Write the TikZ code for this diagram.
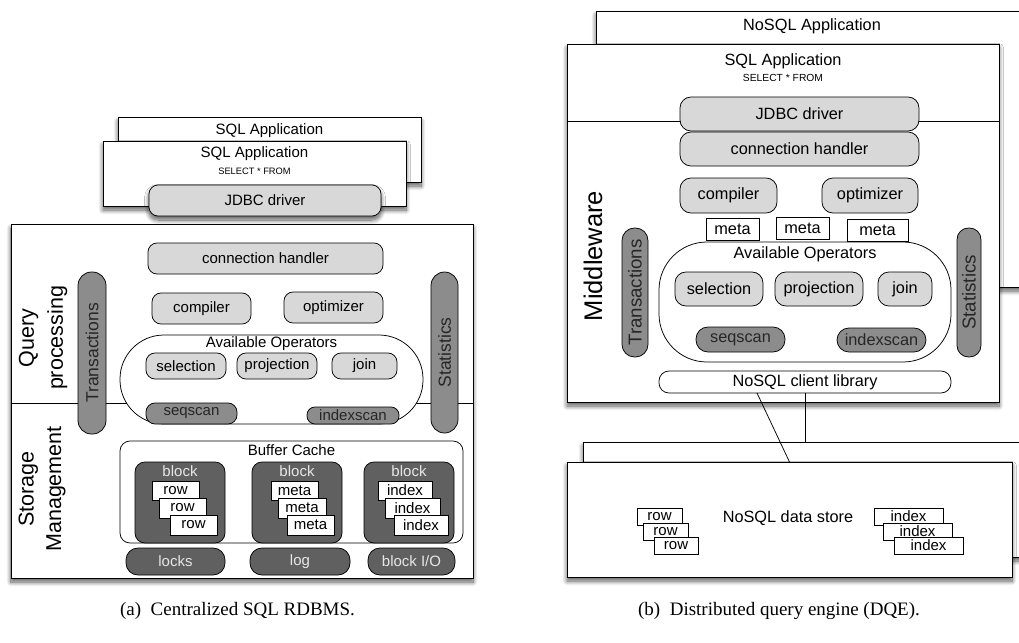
\documentclass[tikz,border=0pt]{standalone}
\usepackage{fontspec}
\setmainfont{Liberation Sans}
\newfontfamily\capfont{Liberation Serif}
\usetikzlibrary{shadows.blur,calc}

\definecolor{lightbox}{HTML}{D8D8D8}
\definecolor{midbox}{HTML}{8C8C8C}
\definecolor{darkbox}{HTML}{606060}
\definecolor{palefont}{HTML}{E6E6E6}

% \bx{style}{name}{x1}{y1}{x2}{y2}{text}: box from its two corners
\newcommand{\bx}[7]{\node[#1, inner sep=0pt, outer sep=0pt,
  minimum width={(#5-#3)*1pt}, minimum height={(#6-#4)*1pt}]
  (#2) at ({(#3+#5)/2},{(#4+#6)/2}) {#7};}
% \vbx: same, for an upright bar whose text runs bottom to top
\newcommand{\vbx}[7]{\node[#1, rotate=90, inner sep=0pt, outer sep=0pt,
  minimum width={(#6-#4)*1pt}, minimum height={(#5-#3)*1pt}]
  (#2) at ({(#3+#5)/2},{(#4+#6)/2}) {#7};}

\tikzset{
  shd/.style={blur shadow={shadow xshift=0pt, shadow yshift=-4pt,
      shadow blur radius=4.5pt, shadow blur steps=12, shadow opacity=65}},
  frame/.style={draw, line width=0.9pt, fill=white},
  pill/.style={draw, line width=0.75pt, rounded corners=9pt},
  lite/.style={pill, fill=lightbox},
  mid/.style={pill, fill=midbox, text=black!85},
  dark/.style={pill, fill=darkbox, text=palefont},
  cell/.style={draw, line width=0.75pt, fill=white},
  fa/.style={font=\fontsize{15}{17}\selectfont},
  fb/.style={font=\fontsize{16.3}{18}\selectfont},
  fsmall/.style={font=\fontsize{9.3}{10}\selectfont},
  fsmallb/.style={font=\fontsize{10.3}{11}\selectfont},
  fcell/.style={font=\fontsize{15}{16}\selectfont, text depth=0pt},
  sidelabel/.style={rotate=90, align=center, inner sep=0pt},
}

\begin{document}
\begin{tikzpicture}[x=1pt,y=-1pt]
\useasboundingbox (0,0) rectangle (1019,642);
\clip (0,0) rectangle (1019,642);

% ---------------- (a) centralized RDBMS ----------------
\bx{frame,shd}{appLb}{118}{117}{421}{182}{}
\node[fa] (appLbt) at (269.5,131) {SQL Application};
\bx{frame,shd}{appLf}{103}{141}{406}{206}{}
\node[fa] (appLft) at (254.5,154) {SQL Application};
\node[fsmall] (selL) at (254.5,171) {SELECT * FROM};
\bx{lite,shd,fa}{jdbcL}{149}{185}{381}{216}{JDBC driver}

\bx{frame,shd}{mainL}{11}{224}{473}{578}{}
\coordinate (divL) at (11,403);
\draw[line width=0.75pt] (divL) -- (divL -| mainL.east);

\bx{lite,fa}{connL}{148}{243}{383}{274}{connection handler}
\vbx{mid,rounded corners=13.5pt,font=\fontsize{17.5}{20}\selectfont}{transL}{78}{272}{106}{434}{Transactions}
\vbx{mid,rounded corners=13.5pt,font=\fontsize{17.5}{20}\selectfont}{statL}{431}{272}{458}{433}{Statistics}
\bx{lite,fa}{compL}{152}{293}{251}{324}{compiler}
\bx{lite,fa}{optL}{284}{292}{383}{323}{optimizer}

\bx{frame,line width=0.75pt,rounded corners=44pt}{opsL}{120}{335}{423}{424}{}
\node[fa] (opsLt) at (271.5,343.5) {Available Operators};
\bx{lite,fa}{selnL}{146}{353}{226}{379}{selection}
\bx{lite,fa}{projL}{237}{353}{317}{379}{projection}
\bx{lite,fa}{joinL}{332}{353}{397}{379}{join}
\bx{mid,fa}{seqL}{146}{403}{237}{424}{seqscan}
\bx{mid,fa,rounded corners=8pt}{ixsL}{307}{407}{399}{424}{indexscan}

\bx{frame,line width=0.75pt,rounded corners=10pt}{bufL}{120}{441}{463}{543}{}
\node[fa] (bufLt) at (291.5,450) {Buffer Cache};

\bx{dark,rounded corners=10pt}{blkA}{135}{462}{225}{543}{}
\node[fa,text=palefont] (blkAt) at (180,471) {block};
\bx{cell,fa}{rowA1}{152}{481}{199}{500}{row}
\bx{cell,fa}{rowA2}{159}{498}{206}{518}{row}
\bx{cell,fa}{rowA3}{170}{515}{217}{535}{row}

\bx{dark,rounded corners=10pt}{blkB}{252}{462}{342}{543}{}
\node[fa,text=palefont] (blkBt) at (297,471) {block};
\bx{cell,fa}{metaB1}{271}{481}{318}{500}{meta}
\bx{cell,fa}{metaB2}{278}{498}{326}{518}{meta}
\bx{cell,fa}{metaB3}{287}{515}{334}{535}{meta}

\bx{dark,rounded corners=10pt}{blkC}{364}{462}{454}{543}{}
\node[fa,text=palefont] (blkCt) at (409,471) {block};
\bx{cell,fa}{idxC1}{378}{481}{432}{500}{index}
\bx{cell,fa}{idxC2}{385}{498}{440}{518}{index}
\bx{cell,fa}{idxC3}{394}{515}{448}{535}{index}

\bx{dark,fa,rounded corners=12pt}{locksL}{126}{548}{225}{575}{locks}
\bx{dark,fa,rounded corners=12pt}{logL}{250}{548}{350}{575}{log}
\bx{dark,fa,rounded corners=12pt}{bioL}{368}{548}{455}{575}{block I/O}

\node[sidelabel,font=\fontsize{21.5}{29}\selectfont] (qpL) at (43,338) {Query\\processing};
\node[sidelabel,font=\fontsize{21.5}{27.5}\selectfont] (smL) at (42,489) {Storage\\Management};

\node[font=\capfont\fontsize{19}{21}\selectfont] (capA) at (237.5,611) {(a)\ \ Centralized SQL RDBMS.};

% ---------------- (b) distributed query engine ----------------
\bx{frame,shd}{nosqlApp}{596}{11}{1045}{287}{}
\node[fb] (nosqlAppt) at (812,26) {NoSQL Application};
\bx{frame,shd}{midR}{567}{44}{999}{402}{}
\node[fb] (appRt) at (783,61) {SQL Application};
\node[fsmallb] (selR) at (783,78) {SELECT * FROM};
\coordinate (divR) at (567,121);
\draw[line width=0.75pt] (divR) -- (divR -| midR.east);

\bx{lite,fb,rounded corners=11pt}{jdbcR}{680}{97}{919}{131}{JDBC driver}
\bx{lite,fb,rounded corners=11pt}{connR}{680}{132}{919}{166}{connection handler}
\bx{lite,fb,rounded corners=11pt}{compR}{680}{178}{777}{213}{compiler}
\bx{lite,fb,rounded corners=11pt}{optR}{822}{178}{918}{213}{optimizer}
\bx{cell,fb}{metaR1}{706}{218}{759}{240}{meta}
\bx{cell,fb}{metaR2}{776}{217}{829}{239}{meta}
\bx{cell,fb}{metaR3}{847}{219}{908}{241}{meta}

\bx{frame,line width=0.75pt,rounded corners=48pt}{opsR}{659}{242}{951}{362}{}
\node[fb] (opsRt) at (805,254) {Available Operators};
\bx{lite,fb,rounded corners=11pt}{selnR}{675}{272}{763}{306}{selection}
\bx{lite,fb,rounded corners=11pt}{projR}{775}{272}{863}{306}{projection}
\bx{lite,fb,rounded corners=11pt}{joinR}{878}{272}{932}{306}{join}
\bx{mid,fb,rounded corners=12pt}{seqR}{696}{327}{785}{352}{seqscan}
\bx{mid,fb,rounded corners=12pt}{ixsR}{837}{328}{926}{352}{indexscan}

\vbx{mid,rounded corners=12.5pt,font=\fontsize{18.7}{21}\selectfont}{transR}{622}{228}{648}{357}{Transactions}
\vbx{mid,rounded corners=11.5pt,font=\fontsize{18.7}{21}\selectfont}{statR}{957}{228}{981}{357}{Statistics}
\node[sidelabel,font=\fontsize{25.5}{28}\selectfont] (mwR) at (593,256) {Middleware};

\bx{frame,line width=0.75pt,rounded corners=10pt,fb}{clientR}{659}{371}{951}{393}{NoSQL client library}

\bx{frame,shd}{dsB}{583}{442}{1045}{557}{}
\bx{frame,shd}{dsF}{567}{462}{1012}{577}{}
\node[fb] (dsFt) at (788,518) {NoSQL data store};

\bx{cell,fcell}{rowR1}{637}{508}{682}{525}{row}
\bx{cell,fcell}{rowR2}{643}{523}{688}{540}{row}
\bx{cell,fcell}{rowR3}{654}{537}{698}{554}{row}
\bx{cell,fcell}{idxR1}{874}{508}{943}{525}{index}
\bx{cell,fcell}{idxR2}{883}{523}{952}{540}{index}
\bx{cell,fcell}{idxR3}{894}{537}{963}{554}{index}

% links from the client library down to the data store
\draw[line width=0.75pt] ([xshift=-48pt]clientR.south) -- (dsF.north);
\draw[line width=0.75pt] (clientR.south) -- (clientR.south |- dsB.north);

\node[font=\capfont\fontsize{19}{21}\selectfont] (capB) at (779,611) {(b)\ \ Distributed query engine (DQE).};
\end{tikzpicture}
\end{document}
